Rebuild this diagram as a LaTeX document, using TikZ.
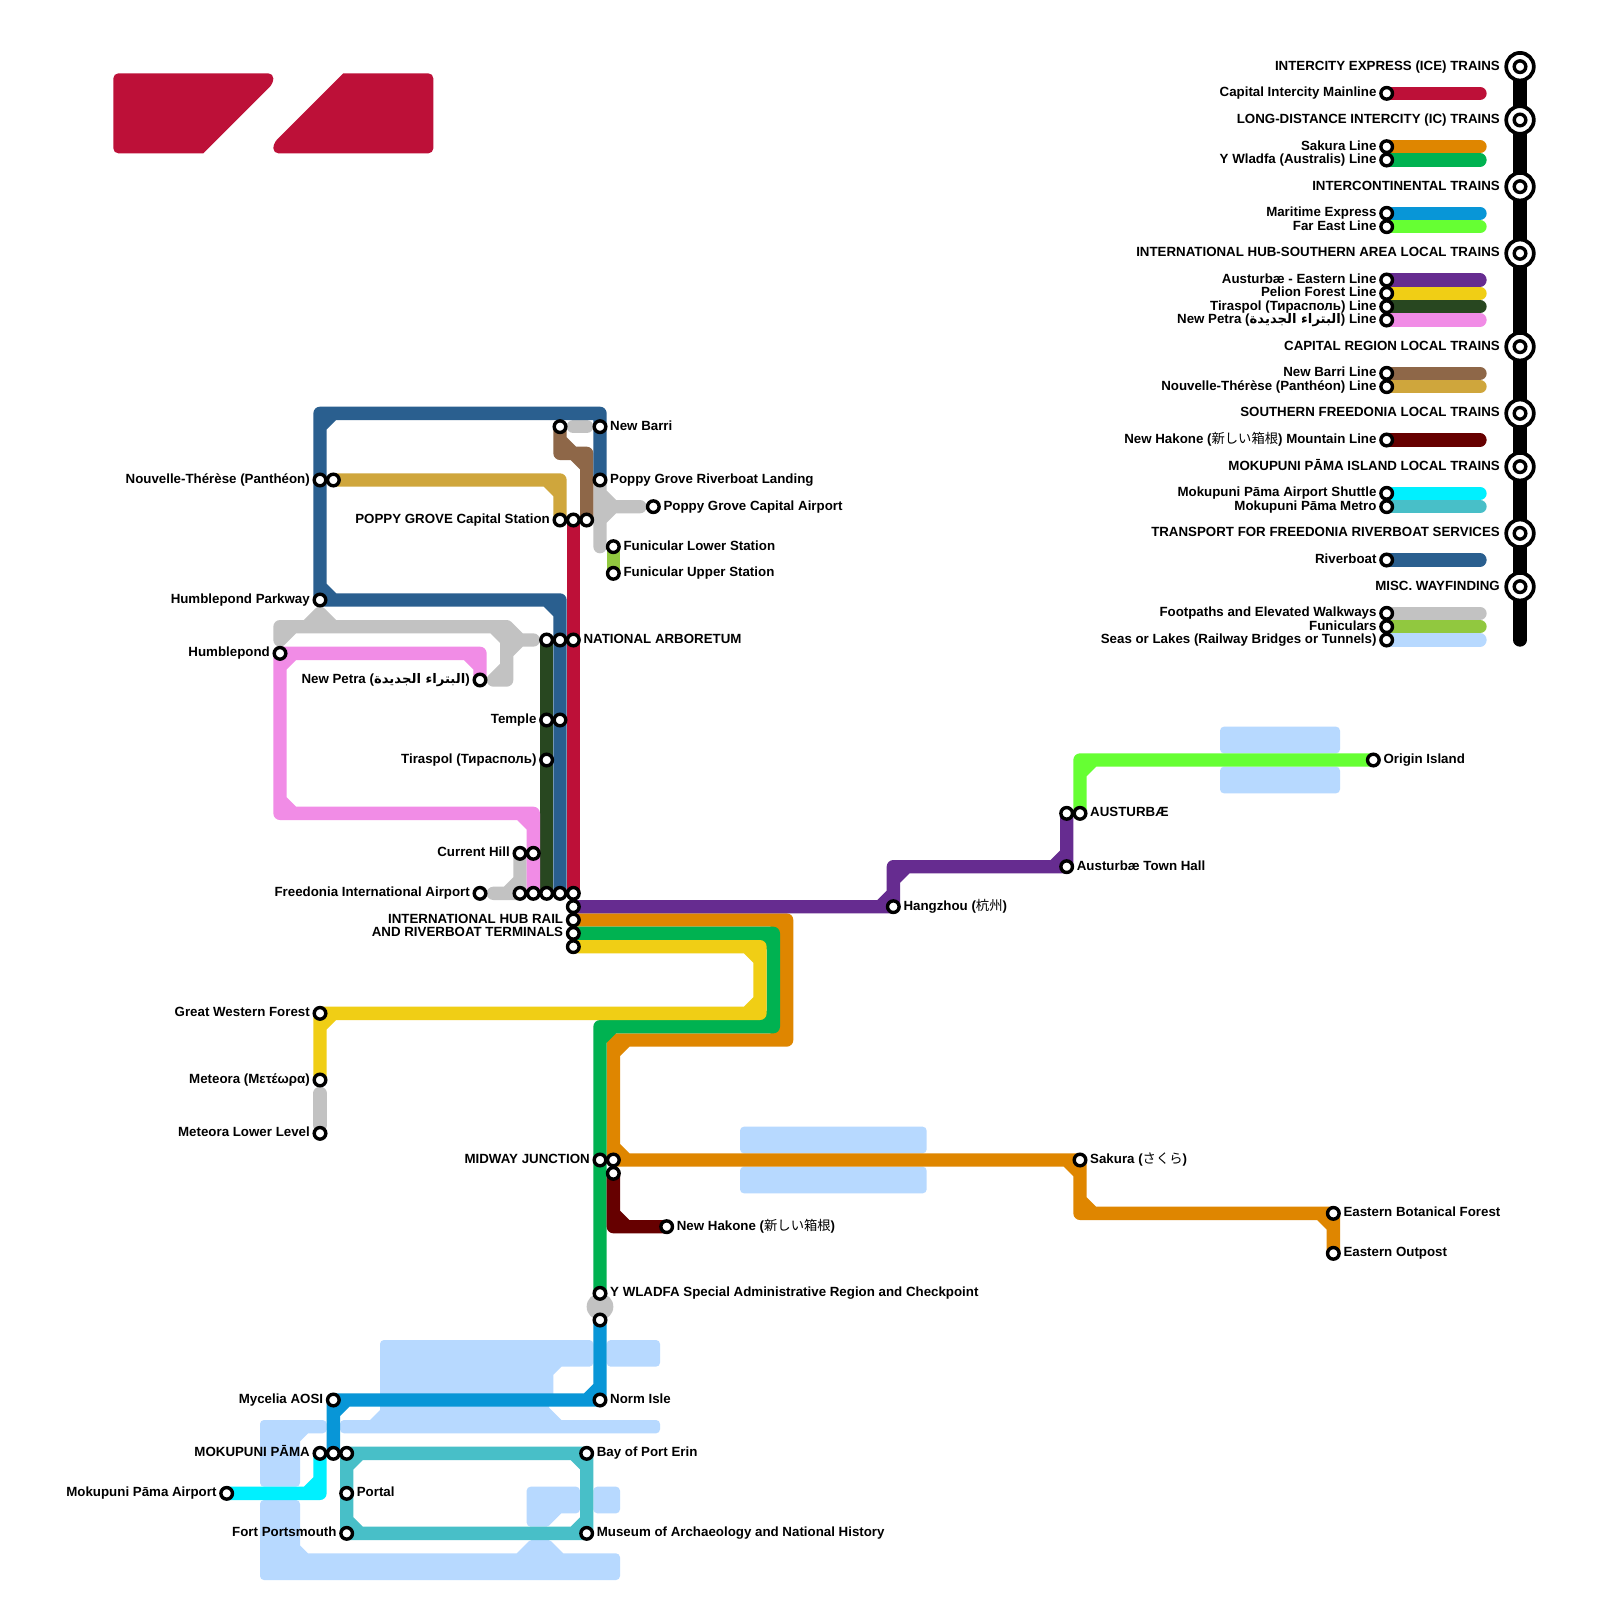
\documentclass[tikz,border=0pt]{standalone}
\usepackage{fontspec}
\setmainfont{Liberation Sans}
\newfontfamily\arfont[Script=Arabic]{DejaVu Sans}
\newfontfamily\cjkfont{Noto Sans CJK JP}
\TeXXeTstate=1
\pgfdeclarelayer{background}
\pgfsetlayers{background,main}
\definecolor{cRed}{HTML}{BD1038}
\definecolor{cOrange}{HTML}{DF8600}
\definecolor{cGreen}{HTML}{00B251}
\definecolor{cBlue}{HTML}{0896D7}
\definecolor{cLime}{HTML}{66FF33}
\definecolor{cPurple}{HTML}{662C90}
\definecolor{cYellow}{HTML}{F0CE15}
\definecolor{cDkGreen}{HTML}{284720}
\definecolor{cPink}{HTML}{F18CE6}
\definecolor{cBrown}{HTML}{8E6748}
\definecolor{cGold}{HTML}{CFA63C}
\definecolor{cDkRed}{HTML}{660000}
\definecolor{cCyan}{HTML}{00F0FF}
\definecolor{cTeal}{HTML}{48BFC8}
\definecolor{cRiver}{HTML}{2A5F8F}
\definecolor{cGrey}{HTML}{C2C2C2}
\definecolor{cFun}{HTML}{91C83F}
\definecolor{cWater}{HTML}{B7D9FF}
\tikzset{
  ln/.style={line width=13.333pt,line cap=round,line join=round},
  stn/.style={circle,draw=black,fill=white,line width=3.4pt,minimum size=11.6pt,inner sep=0pt},
  bigst/.style={circle,draw=black,fill=white,line width=3.7pt,minimum size=27.6pt,inner sep=0pt},
  lbl/.style={inner sep=0pt,font=\fontsize{13.31pt}{14pt}\selectfont\bfseries},
  water/.style={fill=cWater,rounded corners=4pt},
  waterp/.style={fill=cWater,draw=cWater,line width=8pt,line join=round}
}
\newcommand{\stP}[3]{\node[stn] (#1) at (#2,#3) {};}
\newcommand{\stR}[4]{\node[stn] (#1) at (#2,#3) {};\node[lbl,anchor=base west] (#1-t) at (#2+.75,#3+.25) {#4};}
\newcommand{\stL}[4]{\node[stn] (#1) at (#2,#3) {};\node[lbl,anchor=base east] (#1-t) at (#2-.75,#3+.25) {#4};}
\newcommand{\legrow}[4]{\stL{#1}{104}{#2}{#4}\coordinate (#1-e) at (111,#2);
  \begin{pgfonlayer}{background}\draw[ln,#3] (#1.center) -- (#1-e);\end{pgfonlayer}}
\newcommand{\legh}[3]{\node[bigst] (#1) at (114,#2) {};\node[stn] (#1-i) at (114,#2) {};
  \node[lbl,anchor=base east] (#1-t) at (112.5,#2+.25) {#3};}
\newcommand{\cj}[1]{{\cjkfont\mdseries #1}}
\newcommand{\ar}[1]{{\arfont\fontsize{13.2pt}{14pt}\selectfont\beginR #1\endR}}
\begin{document}
\begin{tikzpicture}[x=13.3333pt,y=-13.3333pt]
\useasboundingbox (0,0) rectangle (120,120);
\begin{pgfonlayer}{background}
\fill[white] (0,0) rectangle (120,120);
\end{pgfonlayer}

% border crossing
\node[circle,fill=cGrey,minimum size=26.67pt,inner sep=0pt] (border) at (45,98) {};

% stations
\stR{newbarri}{45}{32}{New Barri}
\stP{nbw}{42}{32}
\stR{riverland}{45}{36}{Poppy Grove Riverboat Landing}
\stR{pgair}{49}{38}{Poppy Grove Capital Airport}
\stR{funlow}{46}{41}{Funicular Lower Station}
\stR{funup}{46}{43}{Funicular Upper Station}
\stL{pgcap}{42}{39}{POPPY GROVE Capital Station}
\stP{pgb}{43}{39}
\stP{pgc}{44}{39}
\stL{nt}{24}{36}{Nouvelle-Thérèse (Panthéon)}
\stP{ntb}{25}{36}
\stL{hpark}{24}{45}{Humblepond Parkway}
\stL{humble}{21}{49}{Humblepond}
\stL{petra}{36}{51}{New Petra (\ar{البتراء الجديدة})}
\stP{naa}{41}{48}
\stP{nab}{42}{48}
\stR{nac}{43}{48}{NATIONAL ARBORETUM}
\stL{temple}{41}{54}{Temple}
\stP{templeb}{42}{54}
\stL{tira}{41}{57}{Tiraspol (Тирасполь)}
\stL{chill}{39}{64}{Current Hill}
\stP{chillb}{40}{64}
\stL{fia}{36}{67}{Freedonia International Airport}
\stP{hba}{39}{67}
\stP{hbb}{40}{67}
\stP{hbc}{41}{67}
\stP{hbd}{42}{67}
\stP{hbe}{43}{67}
\stP{hbf}{43}{68}
\stL{hbg}{43}{69}{INTERNATIONAL HUB RAIL}
\stL{hbh}{43}{70}{AND RIVERBOAT TERMINALS}
\stP{hbi}{43}{71}
\stR{hang}{67}{68}{Hangzhou (\cj{杭州})}
\stP{ausb}{80}{61}
\stR{aus}{81}{61}{AUSTURBÆ}
\stR{austh}{80}{65}{Austurbæ Town Hall}
\stR{origin}{103}{57}{Origin Island}
\stL{gwf}{24}{76}{Great Western Forest}
\stL{meteora}{24}{81}{Meteora (Μετέωρα)}
\stL{metlow}{24}{85}{Meteora Lower Level}
\stL{midway}{45}{87}{MIDWAY JUNCTION}
\stP{midb}{46}{87}
\stP{midc}{46}{88}
\stR{sakura}{81}{87}{Sakura (\cj{さくら})}
\stR{ebf}{100}{91}{Eastern Botanical Forest}
\stR{eout}{100}{94}{Eastern Outpost}
\stR{hakone}{50}{92}{New Hakone (\cj{新しい箱根})}
\stR{ywl}{45}{97}{Y WLADFA Special Administrative Region and Checkpoint}
\stP{ywlb}{45}{99}
\stL{myc}{25}{105}{Mycelia AOSI}
\stR{norm}{45}{105}{Norm Isle}
\stL{mok}{24}{109}{MOKUPUNI PĀMA}
\stP{mokb}{25}{109}
\stP{mokc}{26}{109}
\stR{bay}{44}{109}{Bay of Port Erin}
\stL{mokair}{17}{112}{Mokupuni Pāma Airport}
\stR{portal}{26}{112}{Portal}
\stL{fort}{26}{115}{Fort Portsmouth}
\stR{museum}{44}{115}{Museum of Archaeology and National History}
% free ends of the footpaths, which stop short of their stations
\coordinate (nbw-e) at (43,32);
\coordinate (newbarri-w) at (44,32);
\coordinate (pgair-w) at (48,38);
\coordinate (riverland-s) at (45,41);
\coordinate (humble-n) at (21,48);
\coordinate (petra-e) at (37,51);
\coordinate (naa-w) at (40,48);
\coordinate (hpark-s) at (24,46);
\coordinate (fia-e) at (37,67);
\coordinate (meteora-s) at (24,82);
\coordinate (metlow-n) at (24,84.4);

\begin{pgfonlayer}{background}
% logo
\fill[cRed] [rounded corners=5pt] (8.5,5.5) -- (20.5,5.5) -- (20.5,6.25) [sharp corners] -- (15.25,11.5) [rounded corners=5pt] -- (8.5,11.5) -- cycle;
\fill[cRed] [rounded corners=5pt] (32.5,5.5) -- (32.5,11.5) -- (20.5,11.5) -- (20.5,10.75) [sharp corners] -- (25.75,5.5) [rounded corners=5pt] -- cycle;
% water
\draw[waterp] (28.8,100.8) -- (44.2,100.8) -- (44.2,102.2) -- (41.976,102.2) -- (41.2,102.976) -- (41.2,105) -- (40.876,105) -- (40.876,105.7) -- (41.976,106.8) -- (49.2,106.8) -- (49.2,107.2) -- (25.8,107.2) -- (25.8,106.8) -- (27.874,106.8) -- (28.8,105.874) -- cycle;
\fill[water] (45.5,100.5) rectangle (49.5,102.5);
\draw[waterp] (19.8,106.8) -- (24.2,106.8) -- (24.2,107.2) -- (22.976,107.2) -- (22.2,107.976) -- (22.2,111.2) -- (19.8,111.2) -- cycle;
\draw[waterp] (19.8,112.8) -- (22.2,112.8) -- (22.2,116.024) -- (22.976,116.8) -- (38.874,116.8) -- (39.874,115.8) -- (41.126,115.8) -- (42.126,116.8) -- (46.2,116.8) -- (46.2,118.2) -- (19.8,118.2) -- cycle;
\draw[waterp] (39.8,111.8) -- (43.2,111.8) -- (43.2,113.2) -- (41.976,113.2) -- (40.976,114.2) -- (39.8,114.2) -- cycle;
\fill[water] (44.5,111.5) rectangle (46.5,113.5);
\fill[water] (55.5,84.5) rectangle (69.5,86.5);
\fill[water] (55.5,87.5) rectangle (69.5,89.5);
\fill[water] (91.5,54.5) rectangle (100.5,56.5);
\fill[water] (91.5,57.5) rectangle (100.5,59.5);
% footpaths
\draw[ln,cGrey] (nbw-e) -- (newbarri-w);
\draw[ln,cGrey] (riverland.center) -- (riverland-s) (45,38) -- (pgair-w)
  (45,37) -- (46,38) (46,38) -- (45,39);
\draw[ln,cGrey] (humble-n) -- (21,47) -- (38,47) -- (38,51) -- (petra-e)
  (38,48) -- (naa-w) (hpark-s) -- (24,47)
  (22,47) -- (21,48) (23,47) -- (24,46) (24,46) -- (25,47)
  (38,47) -- (39,48) (39,48) -- (38,49) (37,47) -- (38,48) (38,50) -- (37,51);
\draw[ln,cGrey] (fia-e) -- (hba.center) (chill.center) -- (hba.center) (38,67) -- (39,66);
\draw[ln,cGrey] (meteora-s) -- (metlow-n);
\draw[ln,cFun] (funlow.center) -- (funup.center);
% Sakura
\draw[ln,cOrange] (hbg.center) -- (59,69) -- (59,78) -- (46,78) -- (midb.center) -- (sakura.center) -- (81,91) -- (ebf.center) -- (eout.center)
  (58,69) -- (59,70) (59,77) -- (58,78) (46,79) -- (47,78) (46,86) -- (47,87) (80,87) -- (81,88) (81,90) -- (82,91) (99,91) -- (100,92);
% Y Wladfa
\draw[ln,cGreen] (hbh.center) -- (58,70) -- (58,77) -- (45,77) -- (ywl.center)
  (57,70) -- (58,71) (58,76) -- (57,77) (46,77) -- (45,78);
% Pelion
\draw[ln,cYellow] (hbi.center) -- (57,71) -- (57,76) -- (gwf.center) -- (meteora.center)
  (56,71) -- (57,72) (57,75) -- (56,76) (24,77) -- (25,76);
% Mainline
\draw[ln,cRed] (pgb.center) -- (hbe.center);
% Austurbae
\draw[ln,cPurple] (hbf.center) -- (67,68) -- (67,65) -- (austh.center) -- (ausb.center)
  (66,68) -- (67,67) (67,66) -- (68,65) (79,65) -- (80,64);
% Far East
\draw[ln,cLime] (aus.center) -- (81,57) -- (origin.center) (81,58) -- (82,57);
% Tiraspol
\draw[ln,cDkGreen] (naa.center) -- (hbc.center);
% New Petra
\draw[ln,cPink] (petra.center) -- (36,49) -- (21,49) -- (21,61) -- (40,61) -- (hbb.center)
  (35,49) -- (36,50) (21,50) -- (22,49) (21,60) -- (22,61) (39,61) -- (40,62);
% New Barri
\draw[ln,cBrown] (nbw.center) -- (42,34) -- (44,34) -- (pgc.center)
  (42,33) -- (43,34) (43,34) -- (44,35);
% Nouvelle-Therese
\draw[ln,cGold] (ntb.center) -- (42,36) -- (pgcap.center) (41,36) -- (42,37);
% New Hakone
\draw[ln,cDkRed] (midc.center) -- (46,92) -- (hakone.center) (46,91) -- (47,92);
% Riverboat
\draw[ln,cRiver] (riverland.center) -- (45,31) -- (24,31) -- (24,45) -- (42,45) -- (hbd.center)
  (24,32) -- (25,31) (24,44) -- (25,45) (41,45) -- (42,46);
% Maritime
\draw[ln,cBlue] (ywlb.center) -- (norm.center) -- (myc.center) -- (mokb.center)
  (45,104) -- (44,105) (26,105) -- (25,106);
% Airport shuttle
\draw[ln,cCyan] (mokair.center) -- (24,112) -- (mok.center) (23,112) -- (24,111);
% Metro
\draw[ln,cTeal] (mokc.center) -- (bay.center) -- (museum.center) -- (fort.center) -- cycle
  (27,109) -- (26,110) (43,109) -- (44,110) (44,114) -- (43,115) (26,114) -- (27,115);
\end{pgfonlayer}

% legend
\legh{h1}{5}{INTERCITY EXPRESS (ICE) TRAINS}
\legrow{l1}{7}{cRed}{Capital Intercity Mainline}
\legh{h2}{9}{LONG-DISTANCE INTERCITY (IC) TRAINS}
\legrow{l2}{11}{cOrange}{Sakura Line}
\legrow{l3}{12}{cGreen}{Y Wladfa (Australis) Line}
\legh{h3}{14}{INTERCONTINENTAL TRAINS}
\legrow{l4}{16}{cBlue}{Maritime Express}
\legrow{l5}{17}{cLime}{Far East Line}
\legh{h4}{19}{INTERNATIONAL HUB-SOUTHERN AREA LOCAL TRAINS}
\legrow{l6}{21}{cPurple}{Austurbæ - Eastern Line}
\legrow{l7}{22}{cYellow}{Pelion Forest Line}
\legrow{l8}{23}{cDkGreen}{Tiraspol (Тирасполь) Line}
\legrow{l9}{24}{cPink}{New Petra (\ar{البتراء الجديدة}) Line}
\legh{h5}{26}{CAPITAL REGION LOCAL TRAINS}
\legrow{l10}{28}{cBrown}{New Barri Line}
\legrow{l11}{29}{cGold}{Nouvelle-Thérèse (Panthéon) Line}
\legh{h6}{31}{SOUTHERN FREEDONIA LOCAL TRAINS}
\legrow{l12}{33}{cDkRed}{New Hakone (\cj{新しい箱根}) Mountain Line}
\legh{h7}{35}{MOKUPUNI PĀMA ISLAND LOCAL TRAINS}
\legrow{l13}{37}{cCyan}{Mokupuni Pāma Airport Shuttle}
\legrow{l14}{38}{cTeal}{Mokupuni Pāma Metro}
\legh{h8}{40}{TRANSPORT FOR FREEDONIA RIVERBOAT SERVICES}
\legrow{l15}{42}{cRiver}{Riverboat}
\legh{h9}{44}{MISC. WAYFINDING}
\legrow{l16}{46}{cGrey}{Footpaths and Elevated Walkways}
\legrow{l17}{47}{cFun}{Funiculars}
\legrow{l18}{48}{cWater}{Seas or Lakes (Railway Bridges or Tunnels)}
\coordinate (legend-end) at (114,48);
\begin{pgfonlayer}{background}
\draw[ln,black] (h1.center) -- (h2.center) -- (h3.center) -- (h4.center) -- (h5.center) -- (h6.center) -- (h7.center) -- (h8.center) -- (h9.center) -- (legend-end);
\end{pgfonlayer}
\end{tikzpicture}
\end{document}
